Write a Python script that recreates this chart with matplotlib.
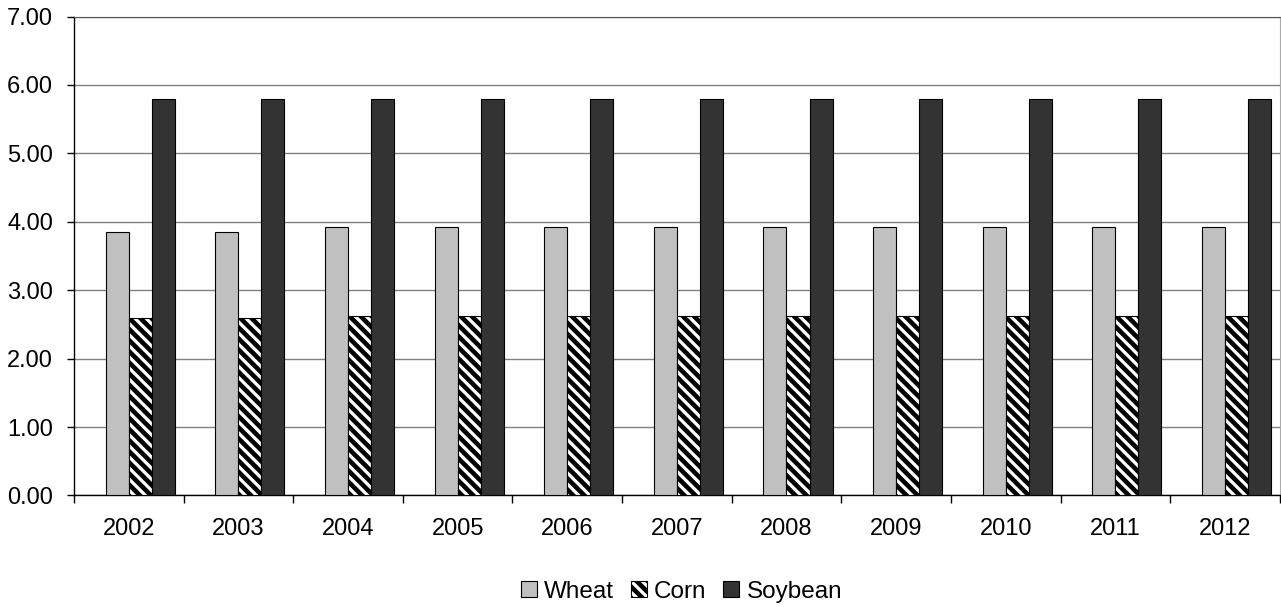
import numpy as np
import matplotlib.pyplot as plt

years = ['2002', '2003', '2004', '2005', '2006', '2007', '2008', '2009', '2010', '2011', '2012']
wheat = [3.85, 3.85, 3.92, 3.92, 3.92, 3.92, 3.92, 3.92, 3.92, 3.92, 3.92]
corn = [2.60, 2.60, 2.62, 2.62, 2.62, 2.62, 2.62, 2.62, 2.62, 2.62, 2.62]
soybean = [5.80, 5.80, 5.80, 5.80, 5.80, 5.80, 5.80, 5.80, 5.80, 5.80, 5.80]

plt.rcParams['font.family'] = ['Liberation Sans', 'DejaVu Sans']
plt.rcParams['hatch.linewidth'] = 3.3
plt.rcParams['hatch.color'] = 'black'

fig = plt.figure(figsize=(12.81, 6.07), dpi=100)
ax = fig.add_axes([0.0578, 0.1837, 0.9412, 0.7891])

x = np.arange(len(years))
w = 0.21
ax.bar(x - 0.105, wheat, w, color='#c0c0c0', edgecolor='black', linewidth=0.8, label='Wheat', zorder=3)
ax.bar(x + 0.105, corn, w, color='white', edgecolor='black', linewidth=0.8, hatch='\\\\\\', label='Corn', zorder=3)
ax.bar(x + 0.315, soybean, w, color='#333333', edgecolor='black', linewidth=0.8, label='Soybean', zorder=3)

ax.set_xlim(-0.5, len(years) - 0.5)
ax.set_ylim(0, 7)
ax.set_yticks(np.arange(0, 8, 1))
ax.set_yticklabels(['%.2f' % v for v in np.arange(0, 8, 1)])
ax.set_xticks(x)
ax.set_xticklabels(years)
ax.set_xticks(np.arange(-0.5, len(years), 1), minor=True)
ax.tick_params(axis='x', which='major', length=0, pad=16, labelsize=17)
ax.tick_params(axis='x', which='minor', length=6, width=1, direction='out')
ax.tick_params(axis='y', length=5, width=1, pad=10, labelsize=17)

ax.grid(axis='y', color='#808080', linewidth=1, zorder=0)
ax.spines['left'].set_linewidth(1)
ax.spines['bottom'].set_linewidth(1)
ax.spines['top'].set_color('#555555')
ax.spines['right'].set_color('#aaaaaa')

# legend sits under the plot area, centred on it
fig.legend(loc='center', bbox_to_anchor=(0.532, 0.025), ncol=3, frameon=False, fontsize=17.5,
           handlelength=0.65, handleheight=0.65, handletextpad=0.3, columnspacing=0.7,
           borderpad=0)

fig.savefig('out.png', dpi=100)
